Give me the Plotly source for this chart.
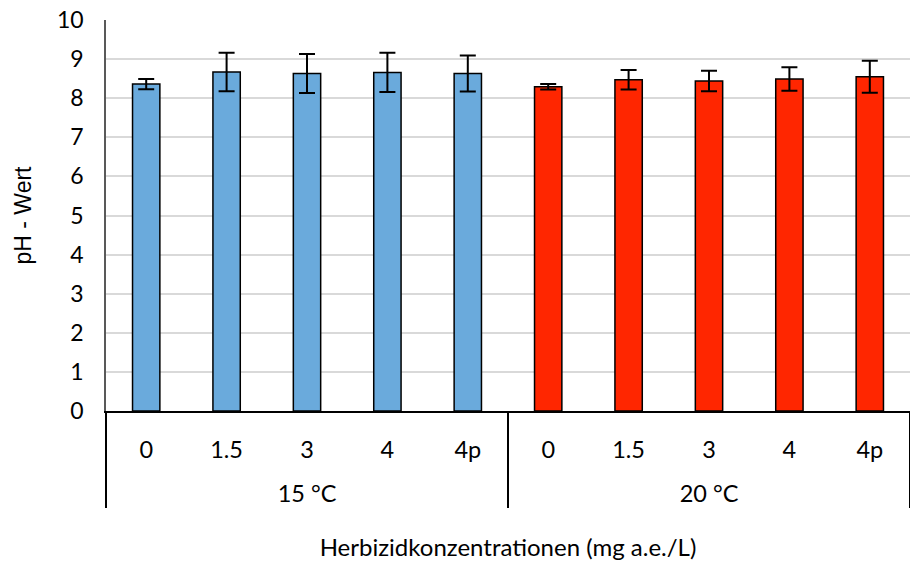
import plotly.graph_objects as go

temps = ["15 °C"] * 5 + ["20 °C"] * 5
concs = ["0", "1.5", "3", "4", "4p"] * 2
ph_15 = [8.36, 8.67, 8.63, 8.66, 8.63]
err_15 = [0.13, 0.49, 0.50, 0.50, 0.46]
ph_20 = [8.29, 8.47, 8.44, 8.49, 8.55]
err_20 = [0.07, 0.25, 0.26, 0.30, 0.41]

values = ph_15 + ph_20
errors = err_15 + err_20
colors = ["#6aaadc"] * 5 + ["#ff2600"] * 5

# extra blank line below each concentration label to space the two label rows
conc_labels = [c + "<br> " for c in concs]

fig = go.Figure(go.Bar(
    x=[temps, conc_labels],
    y=values,
    marker=dict(color=colors, line=dict(color="black", width=1.5)),
    error_y=dict(type="data", array=errors, color="black", thickness=2, width=8),
))

font = "Lato, Noto Sans, sans-serif"
fig.update_layout(
    width=910, height=564,
    margin=dict(l=106, r=0, t=20, b=153),
    plot_bgcolor="white", paper_bgcolor="white",
    bargap=0.66,
    showlegend=False,
    font=dict(family=font, size=22, color="black"),
)
fig.update_yaxes(
    range=[0, 10], dtick=1, showgrid=True, gridcolor="#d9d9d9", gridwidth=1.5,
    showline=True, linecolor="#595959", linewidth=1.5, zeroline=False,
    tickfont=dict(size=23), ticks="", ticklen=0, automargin=False,
    ticklabelstandoff=16,
    title=dict(text="pH - Wert", font=dict(family="Liberation Sans, Arial", size=23), standoff=19),
)
fig.update_xaxes(
    showline=True, linecolor="black", linewidth=2,
    showdividers=True, dividercolor="black", dividerwidth=1.5,
    ticklabelstandoff=17,
    tickfont=dict(size=23.5), automargin=False,
    title=dict(text="Herbizidkonzentrationen (mg a.e./L)", font=dict(size=24), standoff=33),
)
fig.write_html("out.html", config={"displayModeBar": False},
               post_script="document.body.style.margin='0';")
